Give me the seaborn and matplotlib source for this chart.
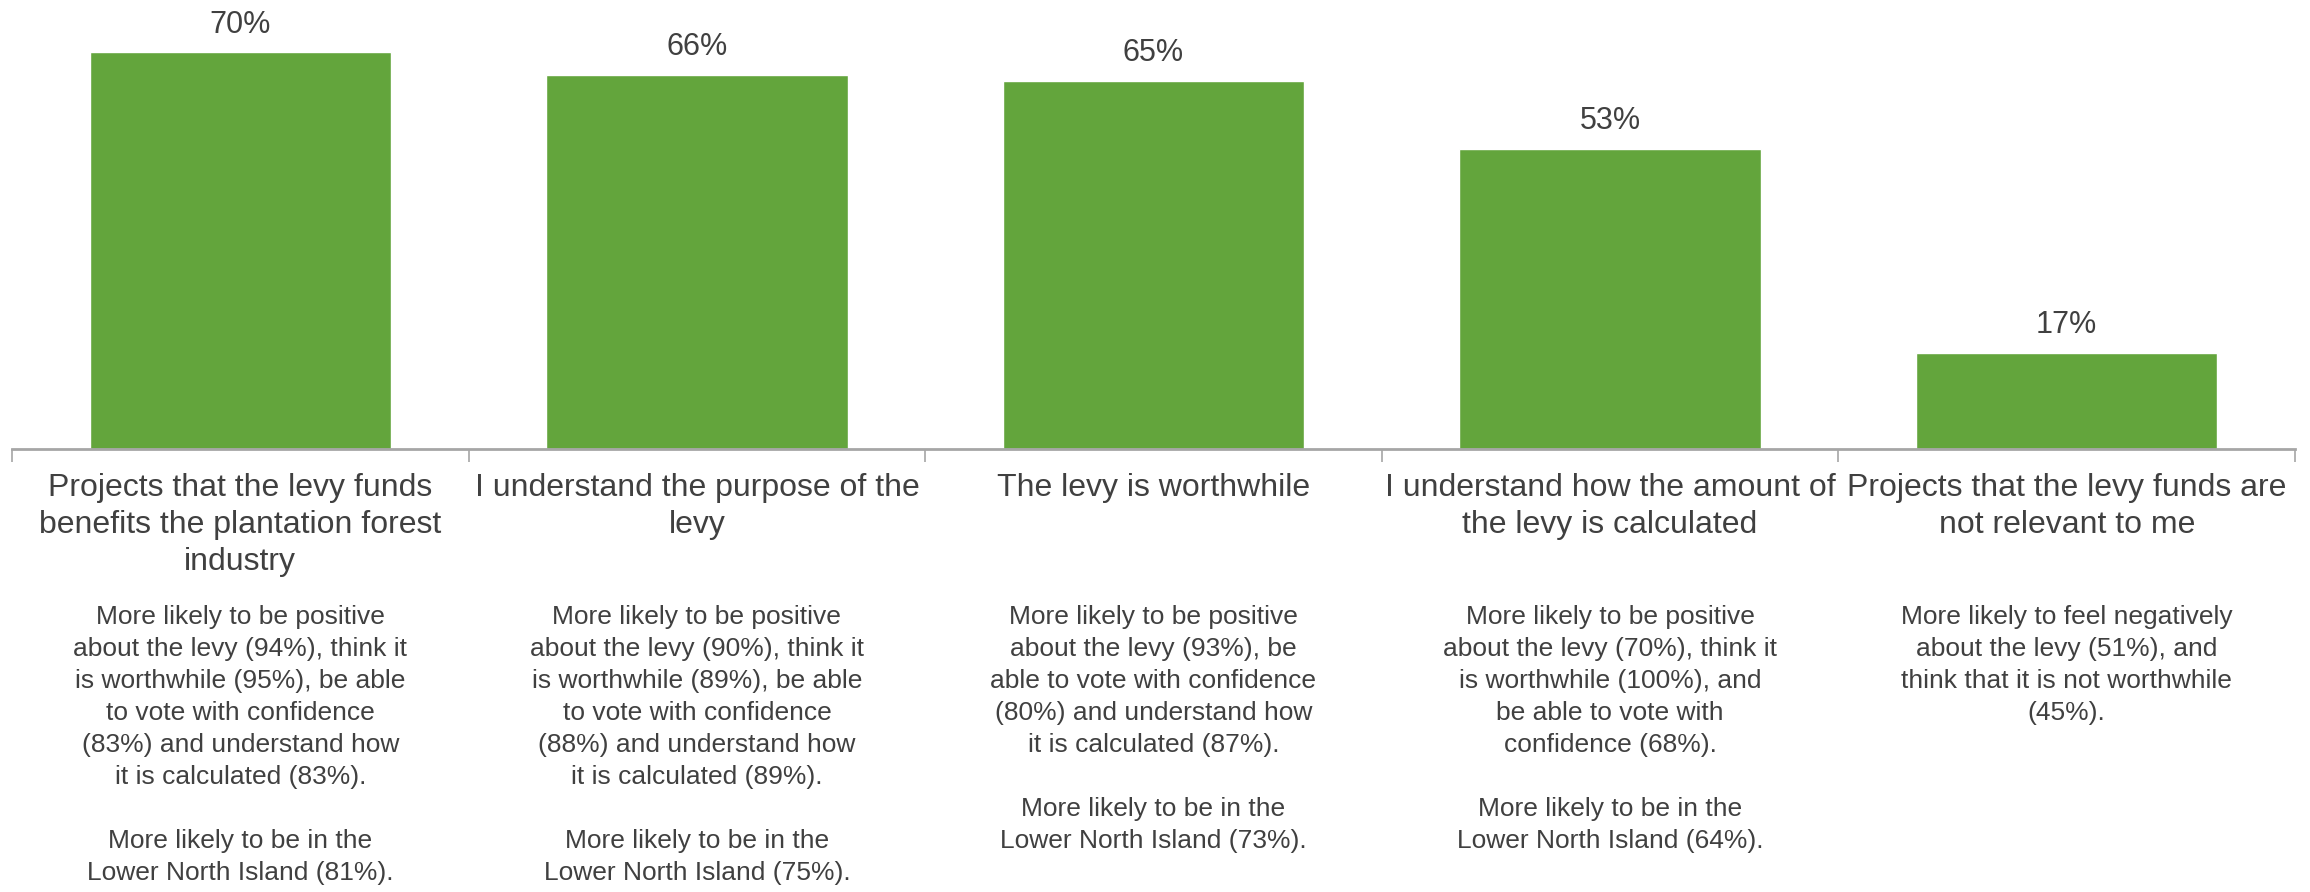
import matplotlib
matplotlib.use("Agg")
import matplotlib.pyplot as plt
import seaborn as sns
import pandas as pd
import numpy as np

# Statements and share of respondents agreeing
statements = [
    "Projects that the levy funds\nbenefits the plantation forest\nindustry",
    "I understand the purpose of the\nlevy",
    "The levy is worthwhile",
    "I understand how the amount of\nthe levy is calculated",
    "Projects that the levy funds are\nnot relevant to me",
]
agree_pct = [70, 66, 65, 53, 17]

# Profile notes shown beneath each statement
profiles = [
    "More likely to be positive\nabout the levy (94%), think it\nis worthwhile (95%), be able\n"
    "to vote with confidence\n(83%) and understand how\nit is calculated (83%).\n\n"
    "More likely to be in the\nLower North Island (81%).",
    "More likely to be positive\nabout the levy (90%), think it\nis worthwhile (89%), be able\n"
    "to vote with confidence\n(88%) and understand how\nit is calculated (89%).\n\n"
    "More likely to be in the\nLower North Island (75%).",
    "More likely to be positive\nabout the levy (93%), be\nable to vote with confidence\n"
    "(80%) and understand how\nit is calculated (87%).\n\n"
    "More likely to be in the\nLower North Island (73%).",
    "More likely to be positive\nabout the levy (70%), think it\nis worthwhile (100%), and\n"
    "be able to vote with\nconfidence (68%).\n\n"
    "More likely to be in the\nLower North Island (64%).",
    "More likely to feel negatively\nabout the levy (51%), and\nthink that it is not worthwhile\n(45%).",
]

BAR_GREEN = "#63A53C"
TEXT_GREY = "#404040"
AXIS_GREY = "#A6A6A6"

sns.set_theme(style="white")
plt.rcParams["font.family"] = ["Liberation Sans", "DejaVu Sans"]

W, H = 2310, 892
fig = plt.figure(figsize=(W / 100, H / 100), dpi=100)
ax = fig.add_axes([12 / W, 1 - 449 / H, (2295 - 12) / W, 449 / H])

df = pd.DataFrame({"key": [str(i) for i in range(len(statements))], "pct": agree_pct})
sns.barplot(data=df, x="key", y="pct", color=BAR_GREEN, saturation=1,
            width=0.66, ax=ax, errorbar=None)

ax.set_ylim(0, 79.2)
ax.set_xlim(-0.5, len(statements) - 0.5)
ax.set_xlabel("")
ax.set_ylabel("")
ax.set_yticks([])

for c in ax.containers:
    ax.bar_label(c, labels=[f"{v}%" for v in agree_pct], padding=9,
                 fontsize=22, color=TEXT_GREY)

# category names as tick labels, separators as minor ticks
ax.set_xticks(range(len(statements)))
ax.set_xticklabels(statements, fontsize=23, color=TEXT_GREY, linespacing=1.32, va="top")
ax.tick_params(axis="x", which="major", length=0, pad=17)
ax.set_xticks(np.arange(-0.5, len(statements), 1.0), minor=True)
ax.tick_params(axis="x", which="minor", length=9, width=1.2, color=AXIS_GREY, bottom=True)

for side in ["top", "right", "left"]:
    ax.spines[side].set_visible(False)
ax.spines["bottom"].set_color(AXIS_GREY)
ax.spines["bottom"].set_linewidth(2)

# profile notes under each category
trans = matplotlib.transforms.blended_transform_factory(ax.transData, fig.transFigure)
for i, note in enumerate(profiles):
    ax.text(i, 1 - 605 / H, note, transform=trans, ha="center", va="top",
            fontsize=19, color=TEXT_GREY, linespacing=1.42, multialignment="center")

fig.savefig("out.png", dpi=100, facecolor="white")
